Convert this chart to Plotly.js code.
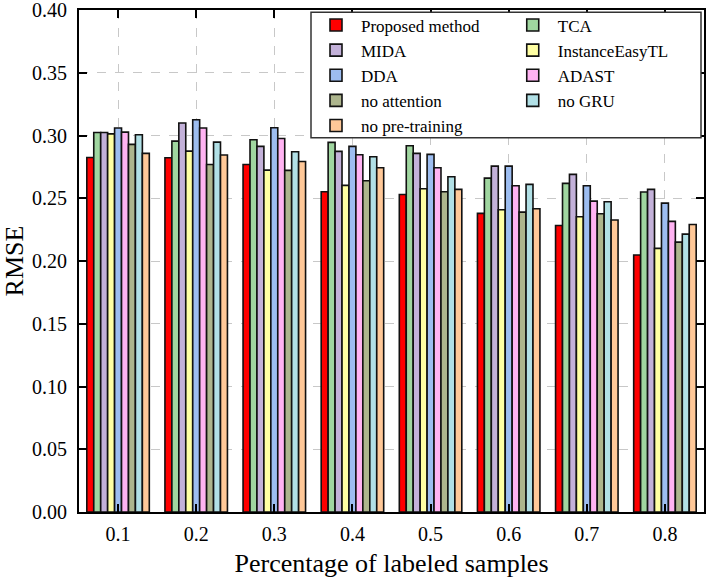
<!DOCTYPE html>
<html>
<head>
<meta charset="utf-8">
<script src="https://cdn.plot.ly/plotly-3.0.1.min.js"></script>
<style>html,body{margin:0;padding:0;background:#fff;}#chart{width:706px;height:587px;}</style>
</head>
<body>
<div id="chart"></div>
<script>
var categories = ['0.1', '0.2', '0.3', '0.4', '0.5', '0.6', '0.7', '0.8'];
var seriesNames = ['Proposed method', 'TCA', 'MIDA', 'InstanceEasyTL', 'DDA', 'ADAST', 'no attention', 'no GRU', 'no pre-training'];
var proposed      = [0.2826, 0.2823, 0.2770, 0.2552, 0.2531, 0.2380, 0.2284, 0.2048];
var tca           = [0.3025, 0.2956, 0.2967, 0.2946, 0.2919, 0.2661, 0.2619, 0.2550];
var mida          = [0.3025, 0.3100, 0.2914, 0.2874, 0.2858, 0.2757, 0.2691, 0.2571];
var instanceEasy  = [0.3014, 0.2876, 0.2725, 0.2603, 0.2576, 0.2409, 0.2353, 0.2101];
var dda           = [0.3060, 0.3126, 0.3062, 0.2914, 0.2850, 0.2757, 0.2600, 0.2462];
var adast         = [0.3028, 0.3060, 0.2977, 0.2847, 0.2744, 0.2600, 0.2478, 0.2316];
var noAttention   = [0.2930, 0.2770, 0.2723, 0.2640, 0.2552, 0.2390, 0.2377, 0.2151];
var noGRU         = [0.3007, 0.2948, 0.2871, 0.2831, 0.2672, 0.2611, 0.2473, 0.2215];
var noPretraining = [0.2858, 0.2845, 0.2794, 0.2744, 0.2571, 0.2417, 0.2327, 0.2292];
var yTickVals = [0, 0.05, 0.10, 0.15, 0.20, 0.25, 0.30, 0.35, 0.40];
var yTickText = ['0.00', '0.05', '0.10', '0.15', '0.20', '0.25', '0.30', '0.35', '0.40'];

var seriesValues = [proposed, tca, mida, instanceEasy, dda, adast, noAttention, noGRU, noPretraining];
var colors = ['#FF0000', '#A0D6A0', '#C3B1D9', '#FFFFA3', '#9DBDF0', '#FFB3F2', '#ADB58D', '#B1E0E6', '#FFC898'];
var legendOf = ['legend', 'legend2', 'legend', 'legend2', 'legend', 'legend2', 'legend', 'legend2', 'legend'];

var FONT = '"Liberation Serif", "Times New Roman", serif';

var traces = seriesNames.map(function (name, i) {
  return {
    type: 'bar',
    name: name,
    x: categories,
    y: seriesValues[i],
    legend: legendOf[i],
    marker: { color: colors[i], line: { color: '#111', width: 1.6 } }
  };
});

function axisBase() {
  return {
    showline: true,
    linecolor: '#000',
    linewidth: 2,
    mirror: 'ticks',
    ticks: 'inside',
    ticklen: 8,
    tickwidth: 2,
    tickcolor: '#000',
    showgrid: true,
    gridcolor: '#c8c8c8',
    griddash: 'dash',
    gridwidth: 1,
    zeroline: false,
    ticklabeloverflow: 'allow',
    tickfont: { family: FONT, size: 20, color: '#000' }
  };
}

var xaxis = axisBase();
xaxis.type = 'category';
xaxis.range = [-0.5, 7.5];
xaxis.ticklabelstandoff = 3;
xaxis.title = { text: 'Percentage of labeled samples', font: { family: FONT, size: 26, color: '#000' }, standoff: 10 };

var yaxis = axisBase();
yaxis.range = [0, 0.4001];
yaxis.tickvals = yTickVals;
yaxis.ticktext = yTickText;
yaxis.ticklabelstandoff = 6;
yaxis.title = { text: 'RMSE', font: { family: FONT, size: 26, color: '#000' }, standoff: 8 };

var layout = {
  width: 706,
  height: 587,
  margin: { l: 79, r: 2, t: 10, b: 75 },
  paper_bgcolor: '#fff',
  plot_bgcolor: '#fff',
  barmode: 'group',
  bargap: 0.2,
  bargroupgap: 0,
  font: { family: FONT, color: '#000' },
  xaxis: xaxis,
  yaxis: yaxis,
  legend: {
    x: 0.3712, y: 1.005, xanchor: 'left', yanchor: 'top',
    bgcolor: 'rgba(0,0,0,0)', borderwidth: 0,
    itemwidth: 40,
    font: { family: FONT, size: 17, color: '#000' },
    traceorder: 'normal'
  },
  legend2: {
    x: 0.686, y: 1.005, xanchor: 'left', yanchor: 'top',
    bgcolor: 'rgba(0,0,0,0)', borderwidth: 0,
    itemwidth: 40,
    font: { family: FONT, size: 17, color: '#000' },
    traceorder: 'normal'
  },
  shapes: [{
    type: 'rect', xref: 'paper', yref: 'paper',
    x0: 0.3712, x1: 0.9952, y0: 0.7456, y1: 0.9954,
    line: { color: '#333', width: 1.5 },
    fillcolor: '#fff',
    layer: 'above'
  }]
};

Plotly.newPlot('chart', traces, layout, { displayModeBar: false, staticPlot: true });
</script>
</body>
</html>
